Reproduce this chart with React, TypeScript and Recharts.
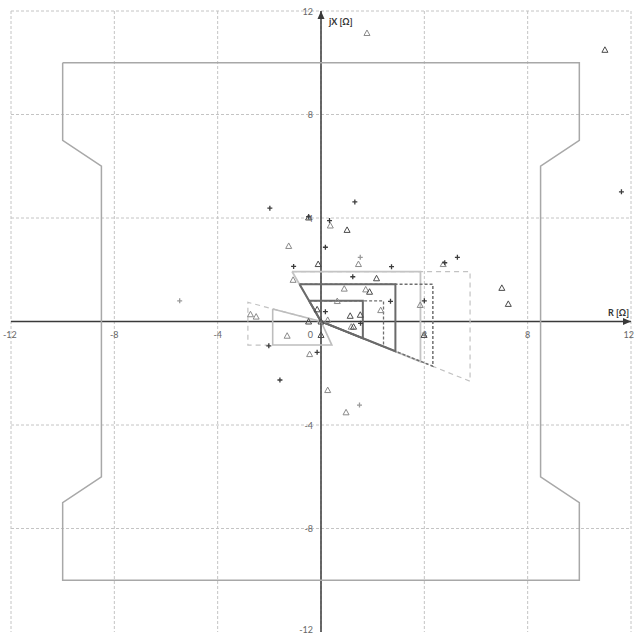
import React from "react"
import {
  ComposedChart,
  Line,
  Scatter,
  XAxis,
  YAxis,
  CartesianGrid,
  ReferenceLine,
  ReferenceDot,
} from "recharts"

// axis ticks (R and jX, in ohm)
const TICKS = [-12, -8, -4, 0, 4, 8, 12]

// outer load-encroachment style boundary
const outerZone = [
  { re: -10, im: 10 }, { re: 10, im: 10 }, { re: 10, im: 7 }, { re: 8.5, im: 6 },
  { re: 8.5, im: -6 }, { re: 10, im: -7 }, { re: 10, im: -10 }, { re: -10, im: -10 },
  { re: -10, im: -7 }, { re: -8.5, im: -6 }, { re: -8.5, im: 6 }, { re: -10, im: 7 },
  { re: -10, im: 10 },
]

// quadrilateral zones
const zone1 = [
  { re: -0.46, im: 0.8 }, { re: 1.62, im: 0.8 }, { re: 1.62, im: -0.65 }, { re: 0, im: 0 }, { re: -0.46, im: 0.8 },
]
const zone1Dashed = [
  { re: -0.46, im: 0.8 }, { re: 2.42, im: 0.8 }, { re: 2.42, im: -0.97 }, { re: 0, im: 0 },
]
const zone2 = [
  { re: -0.83, im: 1.44 }, { re: 2.88, im: 1.44 }, { re: 2.88, im: -1.15 }, { re: 0, im: 0 }, { re: -0.83, im: 1.44 },
]
const zone2Dashed = [
  { re: -0.83, im: 1.44 }, { re: 4.33, im: 1.44 }, { re: 4.33, im: -1.73 }, { re: 0, im: 0 },
]
const zone3 = [
  { re: -1.12, im: 1.93 }, { re: 3.85, im: 1.93 }, { re: 3.85, im: -1.55 }, { re: 0, im: 0 }, { re: -1.12, im: 1.93 },
]
const zone3Dashed = [
  { re: -1.12, im: 1.93 }, { re: 5.77, im: 1.93 }, { re: 5.77, im: -2.31 }, { re: 0, im: 0 },
]
const zoneRev = [
  { re: -1.87, im: 0.48 }, { re: -1.87, im: -0.91 }, { re: 0.42, im: -0.91 }, { re: 0, im: 0 }, { re: -1.87, im: 0.48 },
]
const zoneRevDashed = [
  { re: 0, im: 0 }, { re: -2.83, im: 0.74 }, { re: -2.83, im: -0.91 }, { re: -1.87, im: -0.91 },
]

// measured impedances
const plusDark = [
  { re: -1.98, im: 4.38 }, { re: 1.31, im: 4.62 }, { re: -0.48, im: 4.05 }, { re: 0.33, im: 3.9 },
  { re: 0.17, im: 2.87 }, { re: 2.73, im: 2.12 }, { re: 4.79, im: 2.27 }, { re: 5.28, im: 2.48 },
  { re: -1.06, im: 2.13 }, { re: 1.23, im: 1.73 }, { re: 2.69, im: 0.78 }, { re: 4.0, im: 0.8 },
  { re: 0.17, im: 0.38 }, { re: 1.53, im: -0.07 }, { re: -2.02, im: -0.94 }, { re: -0.15, im: -1.19 },
  { re: -1.59, im: -2.26 }, { re: 11.63, im: 5.01 },
]
const plusLight = [
  { re: 1.52, im: 2.48 }, { re: 1.49, im: -3.23 }, { re: -5.47, im: 0.8 }, { re: 4.0, im: -0.45 },
]
const triLight = [
  { re: 0.36, im: 3.71 }, { re: -1.25, im: 2.92 }, { re: 1.45, im: 2.22 }, { re: 4.73, im: 2.22 },
  { re: -1.08, im: 1.61 }, { re: 0.9, im: 1.27 }, { re: 1.73, im: 1.24 }, { re: 0.63, im: 0.79 },
  { re: 3.84, im: 0.64 }, { re: 2.31, im: 0.44 }, { re: -2.73, im: 0.28 }, { re: -2.51, im: 0.19 },
  { re: -1.31, im: -0.55 }, { re: -0.44, im: -1.26 }, { re: 0.26, im: -2.65 }, { re: 0.97, im: -3.51 },
  { re: 1.78, im: 11.15 }, { re: 1.17, im: -0.2 }, { re: 0.26, im: 0.06 },
]
const triDark = [
  { re: -0.48, im: 4.02 }, { re: 1.01, im: 3.54 }, { re: -0.11, im: 2.22 }, { re: 2.15, im: 1.67 },
  { re: -0.15, im: 0.47 }, { re: 1.13, im: 0.22 }, { re: 1.52, im: 0.26 }, { re: 1.26, im: -0.2 },
  { re: 3.99, im: -0.52 }, { re: -0.48, im: 0 }, { re: 0, im: -0.52 }, { re: 10.99, im: 10.5 },
  { re: 7.0, im: 1.3 }, { re: 7.25, im: 0.68 }, { re: 0, im: 0 }, { re: 1.88, im: 1.15 },
]

const FONT = "Lato, 'Liberation Sans', sans-serif"

const plusShape = (color: string) => (props: any) => {
  const { cx, cy } = props
  return (
    <path
      d={`M${cx - 2.5},${cy} h5 M${cx},${cy - 2.5} v5`}
      stroke={color}
      strokeWidth={1.3}
      fill="none"
    />
  )
}

const triShape = (color: string) => (props: any) => {
  const { cx, cy } = props
  return (
    <path
      d={`M${cx},${cy - 3} L${cx + 3},${cy + 2.5} L${cx - 3},${cy + 2.5} Z`}
      stroke={color}
      strokeWidth={1}
      fill="none"
    />
  )
}

// labels at the ends are pulled in so they stay on the page
const xTickLabel = (v: number) => (props: any) => {
  let anchor = "middle"
  let x = props.cx
  if (v === -12) {
    anchor = "start"
    x = props.cx - 8
  } else if (v === 12) {
    anchor = "end"
    x = props.cx + 3
  }
  return (
    <text x={x} y={props.cy + 16} textAnchor={anchor} fontSize={9} fill="#666" fontFamily={FONT}>
      {v}
    </text>
  )
}

const yTickLabel = (v: number) => (props: any) => {
  let y = props.cy + 3.5
  if (v === 0) y = props.cy + 16
  if (v === -12) y = props.cy + 1
  return (
    <text x={props.cx - 8} y={y} textAnchor="end" fontSize={9} fill="#666" fontFamily={FONT}>
      {v}
    </text>
  )
}

export default function App() {
  const polyLine = (data: any[], color: string, width: number, dash?: string) => (
    <Line
      data={data}
      dataKey="im"
      type="linear"
      stroke={color}
      strokeWidth={width}
      strokeDasharray={dash}
      dot={false}
      activeDot={false}
      isAnimationActive={false}
    />
  )

  return (
    <div style={{ position: "absolute", left: 0, top: 0, background: "#fff" }}>
      <ComposedChart
        width={635}
        height={634}
        margin={{ top: 11, right: 4, bottom: 2, left: 11 }}
      >
        <CartesianGrid
          stroke="#c4c4c4"
          strokeDasharray="3 2"
          verticalValues={TICKS}
          horizontalValues={TICKS}
        />
        <XAxis dataKey="re" type="number" domain={[-12, 12]} ticks={TICKS} allowDataOverflow hide />
        <YAxis dataKey="im" type="number" domain={[-12, 12]} ticks={TICKS} allowDataOverflow hide />

        <ReferenceLine x={0} stroke="#3a3a3a" strokeWidth={1.5} />
        <ReferenceLine y={0} stroke="#3a3a3a" strokeWidth={1.5} />

        {polyLine(outerZone, "#a8a8a8", 1.5)}
        {polyLine(zoneRevDashed, "#c2c2c2", 1.2, "5 4")}
        {polyLine(zone3Dashed, "#c2c2c2", 1.2, "5 4")}
        {polyLine(zoneRev, "#bdbdbd", 1.6)}
        {polyLine(zone3, "#c4c4c4", 1.8)}
        {polyLine(zone2Dashed, "#6f6f6f", 1.5, "3 2")}
        {polyLine(zone1Dashed, "#6f6f6f", 1.3, "3 2")}
        {polyLine(zone2, "#6a6a6a", 2)}
        {polyLine(zone1, "#6a6a6a", 2)}

        <Scatter data={triLight} dataKey="im" shape={triShape("#8a8a8a")} isAnimationActive={false} />
        <Scatter data={triDark} dataKey="im" shape={triShape("#4a4a4a")} isAnimationActive={false} />
        <Scatter data={plusLight} dataKey="im" shape={plusShape("#9a9a9a")} isAnimationActive={false} />
        <Scatter data={plusDark} dataKey="im" shape={plusShape("#3c3c3c")} isAnimationActive={false} />

        <ReferenceDot
          x={12}
          y={0}
          r={4}
          shape={(p: any) => (
            <path d={`M${p.cx},${p.cy} l-8,-3.5 v7 z`} fill="#3a3a3a" />
          )}
        />
        <ReferenceDot
          x={0}
          y={12}
          r={4}
          shape={(p: any) => (
            <path d={`M${p.cx},${p.cy} l-3.5,8 h7 z`} fill="#3a3a3a" />
          )}
        />

        {TICKS.filter((t) => t !== 0).map((t) => (
          <ReferenceDot key={`xt${t}`} x={t} y={0} r={1} shape={xTickLabel(t)} />
        ))}
        {TICKS.map((t) => (
          <ReferenceDot key={`yt${t}`} x={0} y={t} r={1} shape={yTickLabel(t)} />
        ))}

        <ReferenceDot
          x={0}
          y={12}
          r={1}
          shape={(p: any) => (
            <text x={p.cx + 8} y={p.cy + 14} fontSize={9} fontWeight="bold" fill="#333" fontFamily={FONT}>
              jX [Ω]
            </text>
          )}
        />
        <ReferenceDot
          x={12}
          y={0}
          r={1}
          shape={(p: any) => (
            <text x={p.cx - 2} y={p.cy - 6} textAnchor="end" fontSize={9} fontWeight="bold" fill="#333" fontFamily={FONT}>
              R [Ω]
            </text>
          )}
        />
      </ComposedChart>
    </div>
  )
}
